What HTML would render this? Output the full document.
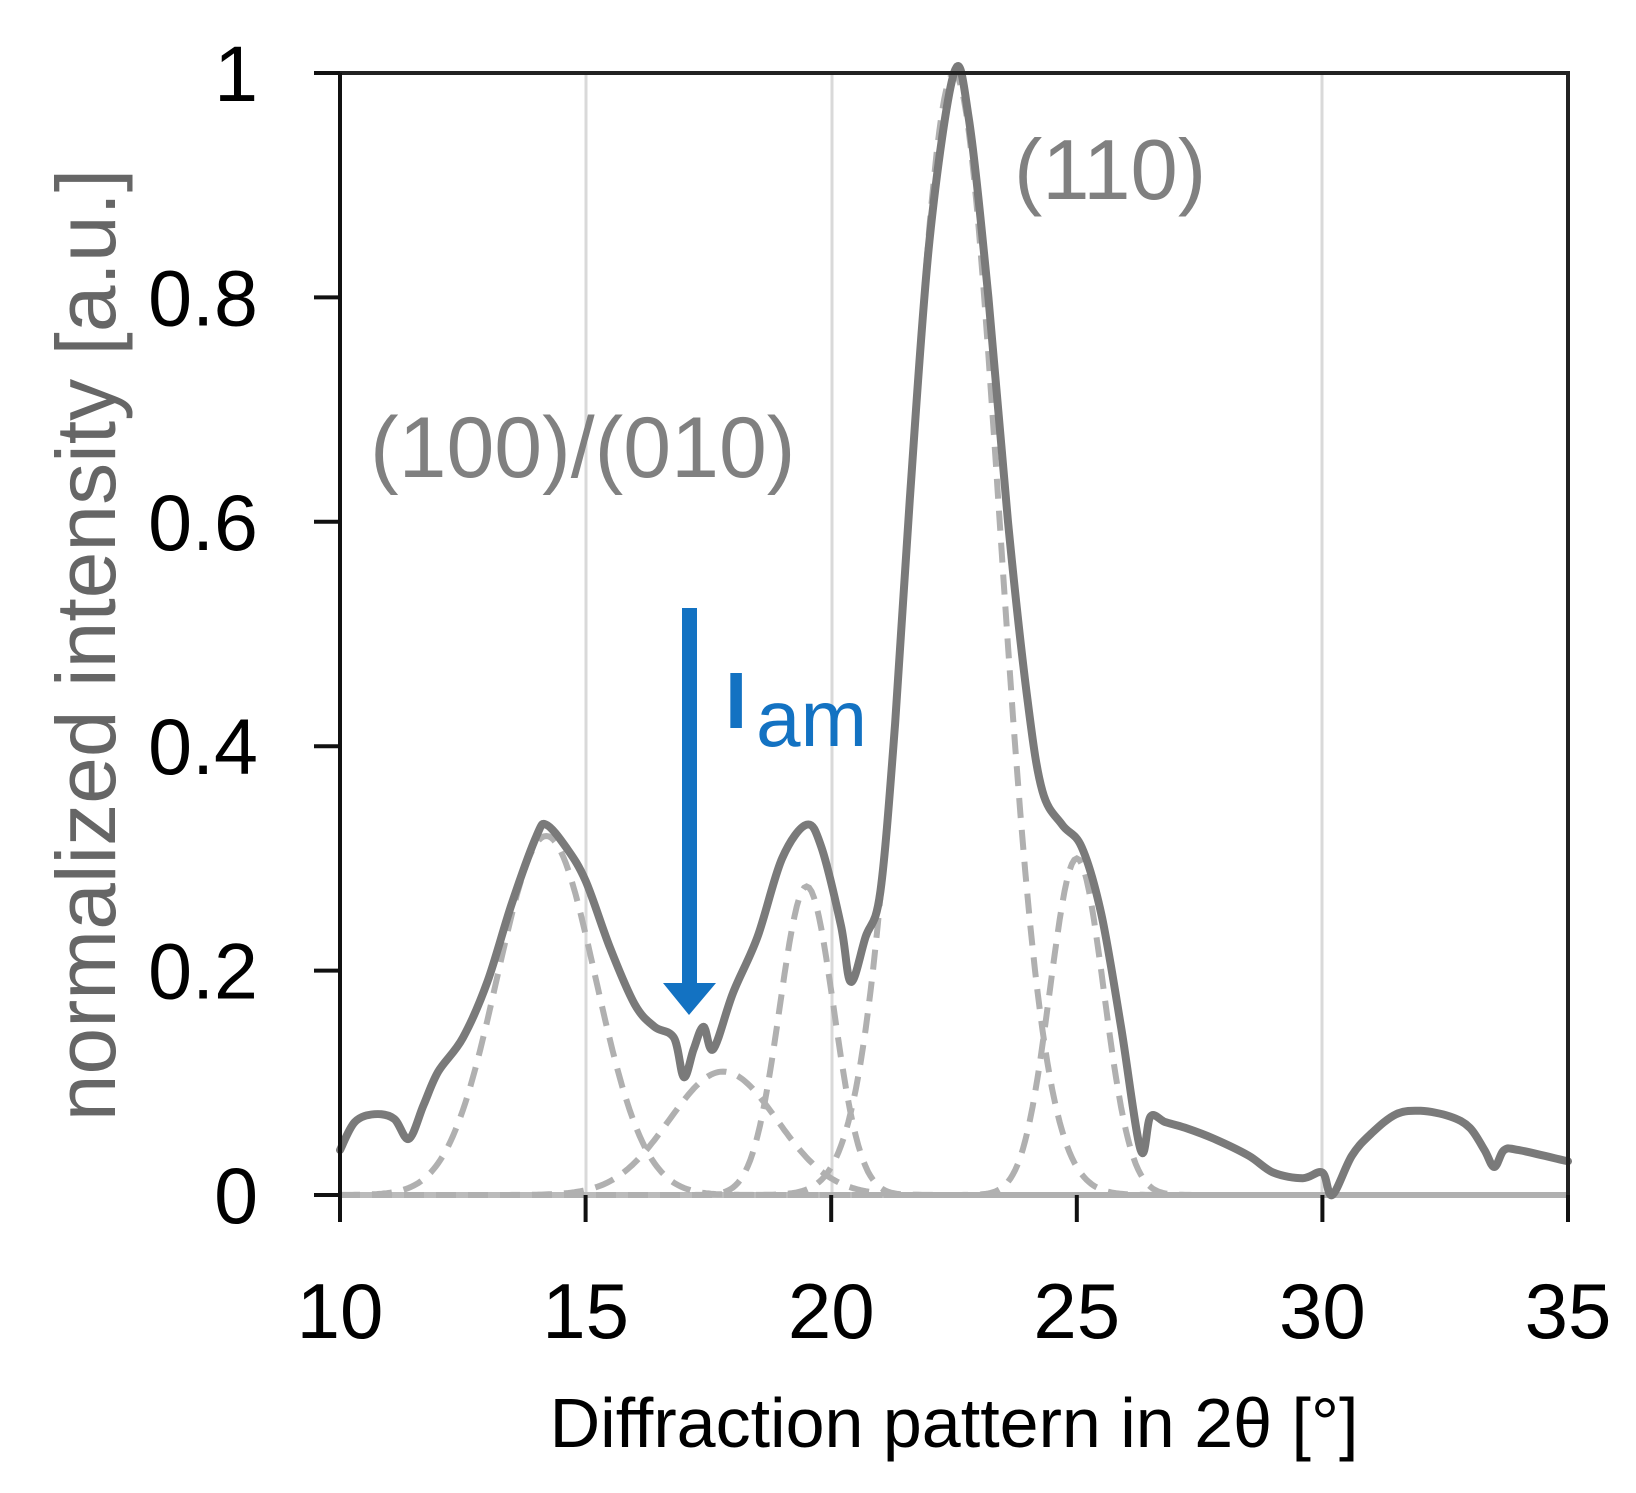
<!DOCTYPE html>
<html><head><meta charset="utf-8"><style>
html,body{margin:0;padding:0;background:#fff;}
svg{display:block;font-family:"Liberation Sans",Arial,sans-serif;}
</style></head><body>
<svg id="s" width="1636" height="1493" viewBox="0 0 1636 1493" xmlns="http://www.w3.org/2000/svg">
<g stroke="#d9d9d9" stroke-width="3">
<line x1="586" y1="73" x2="586" y2="1195"/>
<line x1="832" y1="73" x2="832" y2="1195"/>
<line x1="1322" y1="73" x2="1322" y2="1195"/>
</g>
<g id="g"></g>
<path d="M340,73 H1568 V1195" fill="none" stroke="#222" stroke-width="4"/>
<line x1="340" y1="73" x2="340" y2="1222" stroke="#111" stroke-width="4"/>
<g stroke="#111" stroke-width="4" id="ticks"></g>
<g font-size="79" fill="#000" text-anchor="end" id="yl"></g>
<g font-size="78" fill="#000" text-anchor="middle" id="xl"></g>
<text x="954" y="1447" font-size="70" text-anchor="middle" fill="#000">Diffraction pattern in 2θ [°]</text>
<text transform="translate(115,645) rotate(-90)" font-size="84" text-anchor="middle" fill="#666">normalized intensity [a.u.]</text>
<text x="1014" y="199" font-size="85" fill="#808080">(110)</text>
<text x="370" y="477" font-size="86" fill="#808080">(100)/(010)</text>
<rect x="682" y="608" width="15" height="375" fill="#1372c2"/>
<polygon points="663,983 716,983 689,1015" fill="#1372c2"/>
<text x="725" y="728" font-size="80" fill="#1372c2" font-weight="bold">I</text>
<text x="756" y="746" font-size="80" fill="#1372c2">am</text>
</svg>
<script>
var X=function(v){return 340+(v-10)*49.12},Y=function(v){return 1195-v*1122};
var g=document.getElementById('g'),ns='http://www.w3.org/2000/svg';
function add(d,st){var p=document.createElementNS(ns,'path');p.setAttribute('d',d);for(var k in st)p.setAttribute(k,st[k]);g.appendChild(p);}
add('M340,1195H1568',{stroke:'#bbb','stroke-width':6,fill:'none'});
var pk=[[14.2,0.32,1.0],[17.8,0.11,1.1],[19.5,0.275,0.55],[22.5,1.0,0.92],[25.0,0.30,0.55]];
pk.forEach(function(p){var d='';for(var x=10;x<=35.001;x+=0.05){var y=p[1]*Math.exp(-Math.pow(x-p[0],2)/(2*p[2]*p[2]));d+=(d?'L':'M')+X(x).toFixed(1)+','+Y(y).toFixed(1);}
add(d,{stroke:'#b0b0b0','stroke-width':6,fill:'none','stroke-dasharray':'20,12'});});
var m=[[10,0.04],[10.3,0.065],[10.7,0.072],[11.1,0.068],[11.4,0.05],[11.7,0.08],[12,0.11],[12.5,0.14],[13,0.19],[13.5,0.26],[14,0.32],[14.2,0.33],[14.6,0.31],[15,0.28],[15.5,0.22],[16,0.17],[16.4,0.15],[16.8,0.14],[17,0.105],[17.2,0.13],[17.4,0.15],[17.6,0.13],[18,0.18],[18.5,0.23],[19,0.3],[19.5,0.33],[19.8,0.31],[20.2,0.24],[20.4,0.19],[20.7,0.23],[21,0.27],[21.3,0.42],[21.6,0.62],[22,0.85],[22.5,1.0],[22.8,0.96],[23.2,0.8],[23.6,0.6],[24,0.44],[24.3,0.36],[24.7,0.33],[25.1,0.31],[25.5,0.25],[25.9,0.15],[26.3,0.04],[26.5,0.07],[26.8,0.065],[27.2,0.06],[27.8,0.05],[28.5,0.035],[29,0.02],[29.6,0.015],[30,0.02],[30.2,0.0],[30.6,0.035],[31,0.055],[31.5,0.072],[32,0.075],[32.6,0.07],[33,0.06],[33.3,0.04],[33.5,0.025],[33.7,0.04],[34,0.04],[35,0.03]];
var P=m.map(function(p){return [X(p[0]),Y(p[1])];});
var d='M'+P[0][0].toFixed(1)+','+P[0][1].toFixed(1);
for(var i=0;i<P.length-1;i++){var p0=P[Math.max(i-1,0)],p1=P[i],p2=P[i+1],p3=P[Math.min(i+2,P.length-1)];
var c1=[p1[0]+(p2[0]-p0[0])/6,p1[1]+(p2[1]-p0[1])/6],c2=[p2[0]-(p3[0]-p1[0])/6,p2[1]-(p3[1]-p1[1])/6];
d+='C'+c1[0].toFixed(1)+','+c1[1].toFixed(1)+' '+c2[0].toFixed(1)+','+c2[1].toFixed(1)+' '+p2[0].toFixed(1)+','+p2[1].toFixed(1);}
add(d,{stroke:'#7a7a7a','stroke-width':8,fill:'none','stroke-linejoin':'round','stroke-linecap':'round'});
var t=document.getElementById('ticks'),yl=document.getElementById('yl'),xl=document.getElementById('xl');
function ln(a,b,c,e){var l=document.createElementNS(ns,'line');l.setAttribute('x1',a);l.setAttribute('y1',b);l.setAttribute('x2',c);l.setAttribute('y2',e);t.appendChild(l);}
function tx(par,x,y,s){var e=document.createElementNS(ns,'text');e.setAttribute('x',x);e.setAttribute('y',y);e.textContent=s;par.appendChild(e);}
['0','0.2','0.4','0.6','0.8','1'].forEach(function(s,i){var y=Y(i*0.2);ln(314,y,340,y);tx(yl,258,y+28,s);});
[10,15,20,25,30,35].forEach(function(v){var x=X(v);ln(x,1195,x,1222);tx(xl,x,1338,String(v));});
</script>
</body></html>
